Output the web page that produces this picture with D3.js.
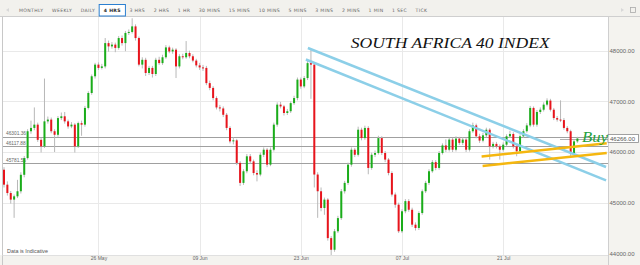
<!DOCTYPE html>
<html>
<head>
<meta charset="utf-8">
<script src="https://cdn.jsdelivr.net/npm/d3@7"></script>
<style>
  body { margin: 0; background: #fff; }
  svg { display: block; }
</style>
</head>
<body>
<svg id="chart" width="640" height="265"></svg>
<script>
// toolbar
const intervals = ["MONTHLY", "WEEKLY", "DAILY", "4 HRS", "3 HRS", "2 HRS", "1 HR", "30 MINS", "15 MINS", "10 MINS", "5 MINS", "3 MINS", "2 MINS", "1 MIN", "1 SEC", "TICK"];
const selectedInterval = "4 HRS";

// axes
const priceTicks = [44000, 45000, 46000, 47000, 48000];
const dateTicks = [28, 58, 88, 118, 148];           // candle index of each date label
const dateLabels = ["26 May", "09 Jun", "23 Jun", "07 Jul", "21 Jul"];
const levelPrices = [46301.36, 46117.88, 45781.56];
const lastPrice = 46266.00;

// 4 hour candles
const opens = [45650,45355,45190,45060,45125,45225,45550,45880,46410,46475,46540,46240,46110,46605,46640,46410,46340,46670,46705,46605,
  46505,46540,46110,46570,46540,46870,47165,47495,47725,47660,47690,48150,48085,48120,48055,48250,48150,48350,48370,48480,
  48250,47725,47820,47560,47660,47540,47820,47755,47870,48065,47985,48020,47690,47890,47870,47955,47890,47805,47710,47670,
  47660,47360,47265,47065,46880,46860,46735,46475,46210,46230,45785,45390,45620,45915,45815,45585,45555,45945,46045,45750,
  46045,46540,46935,46900,46770,46805,46965,47065,47430,47295,47460,47755,47725,45555,45225,44895,45060,44300,44070,44435,
  44695,45225,45390,45750,46045,45945,46440,46275,46475,45685,45945,45980,46275,45980,45850,45585,45160,44960,44435,44830,
  45030,44860,44565,44500,44795,45225,45390,45620,45800,45685,45980,46130,46045,46245,46045,46265,46180,46245,46045,46410,
  46525,46310,46225,46330,46440,46110,46160,46110,46045,46145,46310,46355,46110,46015,46310,46410,46525,46870,46540,46790,
  46835,46935,47015,46835,46670,46640,46630,46475,46410,45980,46210];
const highs = [45700,45420,45230,45160,45450,45600,45920,46450,46620,46880,46580,46280,47450,46700,46680,46450,46710,46780,46790,46640,
  46590,46570,46600,46620,46910,47200,47530,47760,47770,47740,48250,48200,48170,48160,48290,48300,48390,48420,48640,48520,
  48280,47870,47860,47700,47700,47860,47880,47920,48110,48100,48060,48050,47930,47940,48190,48000,47930,47840,47760,47720,
  47700,47410,47300,47100,46930,46900,46770,46510,46290,46260,45820,45660,45960,45960,45850,45640,45990,46090,46080,46090,
  46580,46980,46990,46930,46850,47000,47110,47470,47470,47500,47800,48040,47760,45600,45300,45100,45090,44340,44480,44740,
  45270,45430,45790,46090,46080,46500,46480,46520,46510,45990,46030,46320,46310,46020,45880,45620,45200,45000,44870,45070,
  45070,44900,44610,44830,45260,45430,45660,45840,45840,46020,46170,46250,46290,46280,46310,46300,46290,46280,46450,46580,
  46560,46360,46380,46480,46470,46200,46200,46150,46190,46350,46420,46390,46150,46350,46450,46570,46910,46900,46830,46880,
  46980,47060,47050,46870,46710,47020,46670,46510,46440,46250,46300];
const lows = [45300,45140,44980,44700,45090,45180,45500,45850,46360,46430,46200,45990,46080,46560,46370,46000,46300,46630,46560,46460,
  46470,45990,46080,46320,46500,46840,47130,47450,47620,47630,47650,47980,48040,47970,48020,48100,47990,48310,48340,48200,
  47690,47650,47500,47520,47470,47500,47720,47720,47840,47950,47940,47460,47650,47830,47840,47850,47770,47670,47620,47600,
  47320,47220,47020,46840,46800,46690,46430,46170,46150,45740,45330,45350,45580,45770,45540,45420,45520,45900,45700,45720,
  46010,46500,46860,46720,46730,46770,46930,47020,47250,47260,47420,47050,45300,44700,44830,44760,44250,43960,44030,44400,
  44660,45180,45350,45710,45900,45910,46230,46240,45560,45650,45900,45950,45940,45800,45540,45120,44900,44400,44400,44790,
  44820,44520,44450,44460,44760,45190,45350,45590,45640,45650,45950,46000,46010,46000,46010,46140,46140,46000,46010,46380,
  46270,46180,46190,46290,45850,46070,46070,45850,46010,46110,46280,46070,45915,45980,46280,46380,46490,46500,46500,46750,
  46800,46900,46800,46630,46600,46590,46440,46370,45880,45950,46180];
const closes = [45355,45190,45060,45125,45225,45550,45880,46410,46475,46540,46240,46110,46605,46640,46410,46340,46670,46705,46605,46505,
  46540,46110,46570,46540,46870,47165,47495,47725,47660,47690,48150,48085,48120,48055,48250,48150,48350,48370,48480,48250,
  47725,47820,47560,47660,47540,47820,47755,47870,48065,47985,48020,47690,47890,47870,47955,47890,47805,47710,47670,47660,
  47360,47265,47065,46880,46860,46735,46475,46210,46230,45785,45390,45620,45915,45815,45585,45555,45945,46045,45750,46045,
  46540,46935,46900,46770,46805,46965,47065,47430,47295,47460,47755,47725,45555,45225,44895,45060,44300,44070,44435,44695,
  45225,45390,45750,46045,45945,46440,46275,46475,45685,45945,45980,46275,45980,45850,45585,45160,44960,44435,44830,45030,
  44860,44565,44500,44795,45225,45390,45620,45800,45685,45980,46130,46045,46245,46045,46265,46180,46245,46045,46410,46525,
  46310,46225,46330,46440,46110,46160,46110,46045,46145,46310,46355,46110,46015,46310,46410,46525,46870,46540,46790,46835,
  46935,47015,46835,46670,46640,46630,46475,46410,45980,46210,46266];

// drawn trend lines: [candle index, price] pairs
const blueLines = [[[90.1, 48053], [178.5, 45704]], [[89.5, 47826], [178.5, 45438]]];
const goldLines = [[[141.6, 45911], [178.7, 46172]], [[141.9, 45724], [178.7, 45981]]];

const title = "SOUTH AFRICA 40 INDEX";
const signal = "Buy";
const note = "Data is Indicative";

const svg = d3.select("#chart");
const W = 640, H = 265;
const plot = { left: 3, right: 608, top: 17, bottom: 255 };

const x = d3.scaleLinear().domain([0, 170]).range([4, 577.4]);
const y = d3.scaleLinear().domain([44000, 48000]).range([253.3, 50.7]);

// panels
svg.append("rect").attr("width", W).attr("height", H).attr("fill", "#fff");
svg.append("rect").attr("x", plot.right).attr("y", plot.top).attr("width", W - plot.right).attr("height", H - plot.top).attr("fill", "#f4f3ef");
svg.append("rect").attr("x", 0).attr("y", plot.bottom).attr("width", plot.right).attr("height", H - plot.bottom).attr("fill", "#f4f3ef");

// grid
const grid = svg.append("g").attr("stroke", "#e9e9e9").attr("stroke-width", 1);
grid.selectAll("line.h").data(priceTicks.slice(1)).join("line")
    .attr("x1", plot.left).attr("x2", plot.right)
    .attr("y1", d => Math.round(y(d)) + 0.5).attr("y2", d => Math.round(y(d)) + 0.5);
grid.selectAll("line.v").data(dateTicks).join("line")
    .attr("x1", d => Math.round(x(d)) + 0.5).attr("x2", d => Math.round(x(d)) + 0.5)
    .attr("y1", plot.top).attr("y2", plot.bottom);

// horizontal levels
const levels = svg.append("g");
levels.selectAll("line").data(levelPrices).join("line")
    .attr("x1", plot.left).attr("x2", plot.right)
    .attr("y1", d => Math.round(y(d)) + 0.5).attr("y2", d => Math.round(y(d)) + 0.5)
    .attr("stroke", "#a0a0a0").attr("stroke-width", 1);
levels.append("line")
    .attr("x1", 560).attr("x2", plot.right)
    .attr("y1", Math.round(y(lastPrice)) + 0.5).attr("y2", Math.round(y(lastPrice)) + 0.5)
    .attr("stroke", "#b0b0b0");
levels.selectAll("text").data(levelPrices).join("text")
    .attr("x", 6).attr("y", d => y(d) - 1.5)
    .attr("font-family", "Liberation Sans, Arial, sans-serif").attr("font-size", 4.8)
    .attr("fill", "#666")
    .text(d => d.toFixed(2));

// candles
const idx = d3.range(closes.length);
const candles = svg.append("g");
candles.selectAll("line").data(idx).join("line")
    .attr("x1", i => x(i)).attr("x2", i => x(i))
    .attr("y1", i => y(highs[i])).attr("y2", i => y(lows[i]))
    .attr("stroke", "#b8b8b8").attr("stroke-width", 1);
candles.selectAll("rect").data(idx).join("rect")
    .attr("x", i => x(i) - 1).attr("width", 2)
    .attr("y", i => y(Math.max(opens[i], closes[i])))
    .attr("height", i => Math.max(1, Math.abs(y(opens[i]) - y(closes[i]))))
    .attr("fill", i => closes[i] >= opens[i] ? "#1aad1a" : "#e8141c");

// trend lines
const line = d3.line().x(d => x(d[0])).y(d => y(d[1]));
svg.append("g").selectAll("path").data(blueLines).join("path")
    .attr("d", line).attr("fill", "none").attr("stroke", "#8ccfe8").attr("stroke-width", 2.5);
svg.append("g").selectAll("path").data(goldLines).join("path")
    .attr("d", line).attr("fill", "none").attr("stroke", "#f5b70f").attr("stroke-width", 2.5);

// right price axis
const yAxis = svg.append("g").attr("transform", `translate(${plot.right},0)`)
    .call(d3.axisRight(y).tickValues(priceTicks).tickFormat(d3.format(".2f")).tickSize(0).tickPadding(1.5));
yAxis.select(".domain").remove();
yAxis.selectAll("text").attr("font-family", "Liberation Sans, Arial, sans-serif").attr("font-size", 6).attr("fill", "#666");

// bottom date axis
const xAxis = svg.append("g").attr("transform", `translate(0,${plot.bottom})`)
    .call(d3.axisBottom(x).tickValues(dateTicks).tickFormat((d, i) => dateLabels[i]).tickSize(0).tickPadding(1.5));
xAxis.select(".domain").remove();
xAxis.selectAll("text").attr("font-family", "Liberation Sans, Arial, sans-serif").attr("font-size", 5).attr("fill", "#666");

// borders
svg.append("line").attr("x1", plot.right + 0.5).attr("x2", plot.right + 0.5).attr("y1", plot.top).attr("y2", H).attr("stroke", "#cfcfcf");
svg.append("line").attr("x1", 2.5).attr("x2", 2.5).attr("y1", plot.top).attr("y2", H).attr("stroke", "#c8c8c8");
svg.append("line").attr("x1", 2.5).attr("x2", plot.right).attr("y1", plot.bottom + 0.5).attr("y2", plot.bottom + 0.5).attr("stroke", "#e0e0e0");

// last price box
const box = svg.append("g").attr("transform", `translate(${plot.right},${y(lastPrice)})`);
box.append("rect").attr("x", 0).attr("y", -4).attr("width", 30.5).attr("height", 8)
    .attr("fill", "#fff").attr("stroke", "#8a8a8a").attr("stroke-width", 0.8);
box.append("text").attr("x", 2).attr("y", 2.2)
    .attr("font-family", "Liberation Sans, Arial, sans-serif").attr("font-size", 6).attr("fill", "#555")
    .text(lastPrice.toFixed(2));

// texts
svg.append("text").attr("x", 350.7).attr("y", 48)
    .attr("font-family", "Liberation Serif, serif").attr("font-style", "italic").attr("font-size", 15)
    .attr("textLength", 199).attr("lengthAdjust", "spacingAndGlyphs")
    .attr("fill", "#111").text(title);
svg.append("text").attr("x", 582).attr("y", 141.5)
    .attr("font-family", "Liberation Serif, serif").attr("font-style", "italic").attr("font-size", 15)
    .attr("textLength", 26).attr("lengthAdjust", "spacingAndGlyphs")
    .attr("fill", "#22a03a").text(signal);
svg.append("text").attr("x", 7).attr("y", 253)
    .attr("font-family", "Liberation Sans, Arial, sans-serif").attr("font-size", 5.4)
    .attr("fill", "#555").text(note);

// toolbar
const bar = svg.append("g");
bar.append("rect").attr("width", W).attr("height", plot.top).attr("fill", "#f2f1ed");
bar.append("line").attr("x1", 0).attr("x2", W).attr("y1", plot.top - 0.5).attr("y2", plot.top - 0.5).attr("stroke", "#cfcfcf");
bar.append("path").attr("d", "M9,8 L6,10 L9,12 Z").attr("fill", "#d8d8d8");
bar.append("path").attr("d", "M621,8 L624,10 L621,12 Z").attr("fill", "#d8d8d8");
bar.append("rect").attr("x", 630.5).attr("y", 7.5).attr("width", 5).attr("height", 5).attr("fill", "none").attr("stroke", "#aaa").attr("stroke-width", 0.8);

let bx = 19;
intervals.forEach(label => {
    const sel = label === selectedInterval;
    const t = bar.append("text").attr("x", bx).attr("y", 12)
        .attr("font-family", "DejaVu Sans, sans-serif").attr("font-size", 4.6)
        .attr("letter-spacing", 0.35)
        .attr("font-weight", sel ? "bold" : "normal")
        .attr("fill", sel ? "#222" : "#666").text(label);
    const w = t.node().getComputedTextLength();
    if (sel) {
        bar.insert("rect", "text").attr("x", bx - 4.5).attr("y", 4.5).attr("width", w + 9).attr("height", 11.5)
            .attr("fill", "#fff").attr("stroke", "#2b7fd0").attr("stroke-width", 1);
    }
    bx += w + 8.5;
});
</script>
</body>
</html>
